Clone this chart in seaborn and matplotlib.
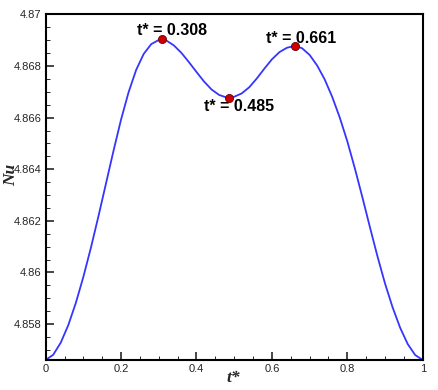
import matplotlib
matplotlib.use("Agg")
import matplotlib.pyplot as plt
import seaborn as sns
import pandas as pd
from matplotlib.ticker import MultipleLocator, FuncFormatter

# ---- data ----
t_vals = [0.00, 0.02, 0.04, 0.06, 0.08, 0.10, 0.12, 0.14, 0.16, 0.18,
          0.20, 0.22, 0.24, 0.26, 0.28, 0.30, 0.308, 0.32, 0.34, 0.36,
          0.38, 0.40, 0.42, 0.44, 0.46, 0.48, 0.485, 0.50, 0.52, 0.54,
          0.56, 0.58, 0.60, 0.62, 0.64, 0.661, 0.68, 0.70, 0.72,
          0.74, 0.76, 0.78, 0.80, 0.82, 0.84, 0.86, 0.88, 0.90, 0.92,
          0.94, 0.96, 0.98, 1.00]
nu_vals = [4.85661, 4.85681, 4.85728, 4.85796, 4.85882, 4.85983, 4.86096, 4.86218, 4.86345, 4.86472,
           4.86593, 4.86699, 4.86785, 4.86847, 4.86885, 4.86901, 4.86904, 4.86899, 4.86880, 4.86851,
           4.86815, 4.86777, 4.86740, 4.86709, 4.86688, 4.86678, 4.86677, 4.86681, 4.86694, 4.86718,
           4.86752, 4.86790, 4.86826, 4.86854, 4.86871, 4.86878, 4.86869, 4.86843, 4.86802,
           4.86748, 4.86680, 4.86600, 4.86508, 4.86403, 4.86291, 4.86175, 4.86062, 4.85957, 4.85865,
           4.85786, 4.85723, 4.85680, 4.85661]

crit_t = [0.308, 0.485, 0.661]
crit_nu = [4.86904, 4.86677, 4.86878]
crit_labels = ["t* = 0.308", "t* = 0.485", "t* = 0.661"]
label_t = [0.334, 0.512, 0.678]
label_nu = [4.86937, 4.86642, 4.86906]

x_ticks = [0, 0.2, 0.4, 0.6, 0.8, 1.0]
y_ticks = [4.858, 4.860, 4.862, 4.864, 4.866, 4.868, 4.870]

curve = pd.DataFrame({"t": t_vals, "Nu": nu_vals})
points = pd.DataFrame({"t": crit_t, "Nu": crit_nu})

sns.set_style("ticks")
plt.rcParams["font.family"] = ["Liberation Sans", "DejaVu Sans"]

fig = plt.figure(figsize=(4.39, 3.90), dpi=100)
ax = fig.add_axes([0.104, 0.077, 0.859, 0.886])

sns.lineplot(data=curve, x="t", y="Nu", ax=ax, color="#3535ff", linewidth=1.3,
             sort=False, estimator=None)
sns.scatterplot(data=points, x="t", y="Nu", ax=ax, color="#cc0000", edgecolor="#700000",
                s=34, linewidth=0.6, zorder=5)

for lt, ln, lab in zip(label_t, label_nu, crit_labels):
    ax.text(lt, ln, lab, ha="center", va="center", fontsize=11.5, fontweight="bold",
            color="black")

ax.set_xlim(0, 1)
ax.set_ylim(4.85661, 4.87)
ax.set_xticks(x_ticks)
ax.set_yticks(y_ticks)
ax.xaxis.set_minor_locator(MultipleLocator(0.05))
ax.yaxis.set_minor_locator(MultipleLocator(0.0005))
fmt = FuncFormatter(lambda v, p: ("%.3f" % v).rstrip("0").rstrip(".") if v != 0 else "0")
ax.xaxis.set_major_formatter(fmt)
ax.yaxis.set_major_formatter(fmt)

ax.tick_params(axis="both", which="major", direction="in", length=5.5, width=1.2,
               labelsize=8, pad=3, top=False, right=False)
ax.tick_params(axis="both", which="minor", direction="in", length=3, width=0.7,
               top=False, right=False)
for s in ax.spines.values():
    s.set_linewidth(1.5)
    s.set_color("black")

ax.set_xlabel("t*", fontsize=12.5, fontweight="bold", fontstyle="italic",
              family=["Liberation Serif", "DejaVu Serif"])
ax.set_ylabel("Nu", fontsize=12.5, fontweight="bold", fontstyle="italic",
              family=["Liberation Serif", "DejaVu Serif"])
ax.xaxis.set_label_coords(0.497, -0.028)
ax.yaxis.set_label_coords(-0.071, 0.535)

fig.savefig("out.png", dpi=100)
